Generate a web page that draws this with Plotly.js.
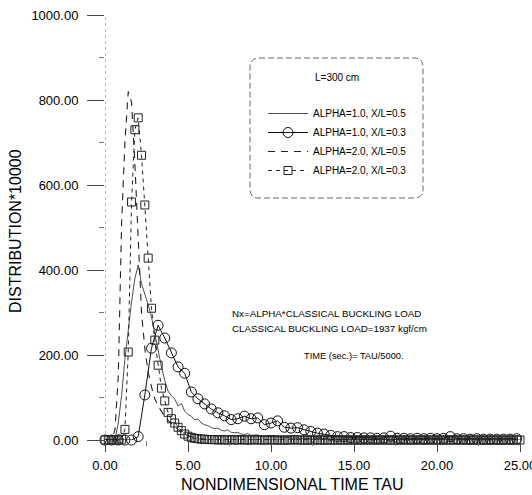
<!DOCTYPE html>
<html>
<head>
<meta charset="utf-8">
<script src="https://cdn.plot.ly/plotly-3.0.1.min.js"></script>
<style>html,body{margin:0;padding:0;background:#fff;}#chart{width:532px;height:495px;}</style>
</head>
<body>
<div id="chart"></div>
<script>
// ---- data ----
// series sampled every 0.2 in TAU, starting at 0
const TAU_FINE_START = 0, TAU_FINE_STEP = 0.2;
// circle series sampled every 0.4 in TAU, starting at 0
const TAU_COARSE_START = 0, TAU_COARSE_STEP = 0.4;

const seriesNames = ["ALPHA=1.0, X/L=0.5", "ALPHA=1.0, X/L=0.3", "ALPHA=2.0, X/L=0.5", "ALPHA=2.0, X/L=0.3"];

const alpha1_xl05 = [
  0,0,0,0,40,105,190,260,325,380,
  412,368,345,318,290,250,205,172,140,115,
  104,96,80,86,68,60,56,47,50,40,
  36,34,29,27,28,23,21,24,18,17,
  18,14,13,15,11,11,12,9,8,10,
  7,7,8,6,5,6,5,4,5,3,
  3,4,3,2,3,2,2,2,1,2,
  1,1,2,1,1,1,0,1,1,0,
  1,0,1,0,0,1,0,0,1,0,
  0,0,1,0,0,0,0,1,0,0,
  0,0,0,0,0,0,0,0,0,0,
  0,0,0,0,0,0,0,0,0,0,
  0,0,0,0,0,0
];

const alpha1_xl03 = [
  0,0,0,0,0,8,106,216,270,240,
  205,172,157,113,97,85,73,64,57,48,
  50,56,50,52,36,40,45,30,28,29,
  24,20,16,14,11,8,8,6,6,5,
  5,4,5,9,4,4,3,4,3,4,
  3,4,8,3,3,2,3,2,2,2,
  2,2,3
];

const alpha2_xl05 = [
  0,0,0,24,150,510,700,820,795,650,
  460,300,215,160,125,97,80,66,55,46,
  38,31,25,19,14,10,7,5,3,2,
  1,0,0,0,0,0,0,0,0,0,
  0,0,0,0,0,0,0,0,0,0,
  0,0,0,0,0,0,0,0,0,0,
  0,0,0,0,0,0,0,0,0,0,
  0,0,0,0,0,0,0,0,0,0,
  0,0,0,0,0,0,0,0,0,0,
  0,0,0,0,0,0,0,0,0,0,
  0,0,0,0,0,0,0,0,0,0,
  0,0,0,0,0,0,0,0,0,0,
  0,0,0,0,0,0
];

const alpha2_xl03 = [
  0,0,0,0,0,2,25,207,560,730,
  758,670,553,428,310,235,176,122,92,65,
  50,40,30,22,14,9,6,4,3,2,
  2,1,1,1,0,1,0,0,1,0,
  0,1,0,0,0,1,0,0,0,0,
  1,0,0,0,0,0,0,1,0,0,
  0,0,0,0,0,0,0,0,0,0,
  0,0,0,0,0,0,0,0,0,0,
  0,0,0,0,0,0,0,0,0,0,
  0,0,0,0,0,0,0,0,0,0,
  0,0,0,0,0,0,0,0,0,0,
  0,0,0,0,0,0,0,0,0,0,
  0,0,0,0,0,0
];

const xTickVals = [0, 5, 10, 15, 20, 25];
const xTickText = ["0.00", "5.00", "10.00", "15.00", "20.00", "25.00"];
const yTickVals = [0, 200, 400, 600, 800, 1000];
const yTickText = ["0.00", "200.00", "400.00", "600.00", "800.00", "1000.00"];

// ---- layout helpers ----
const W = 532, H = 495;
const M = {l: 105, r: 12, t: 15, b: 55};
const PW = W - M.l - M.r, PH = H - M.t - M.b;
const px = x => (x - M.l) / PW;            // pixel -> paper x
const py = y => (H - M.b - y) / PH;        // pixel -> paper y

function roundRectPath(x0, y0, x1, y1, r) {
  const rx = r / PW, ry = r / PH;
  const L = px(x0), R = px(x1), T = py(y0), B = py(y1);
  return `M ${L+rx},${T} L ${R-rx},${T} Q ${R},${T} ${R},${T-ry} L ${R},${B+ry} Q ${R},${B} ${R-rx},${B} ` +
         `L ${L+rx},${B} Q ${L},${B} ${L},${B+ry} L ${L},${T-ry} Q ${L},${T} ${L+rx},${T} Z`;
}

const FONT = '"Liberation Sans", Arial, Helvetica, sans-serif';

const traces = [
  {name: seriesNames[0], y: alpha1_xl05, x0: TAU_FINE_START, dx: TAU_FINE_STEP, type: 'scatter', mode: 'lines',
   line: {color: '#3a3a3a', width: 0.9}, cliponaxis: false},
  {name: seriesNames[1], y: alpha1_xl03, x0: TAU_COARSE_START, dx: TAU_COARSE_STEP, type: 'scatter', mode: 'lines+markers',
   line: {color: '#111', width: 1},
   marker: {symbol: 'circle-open', size: 10, color: '#111', line: {width: 1, color: '#111'}}, cliponaxis: false},
  {name: seriesNames[2], y: alpha2_xl05, x0: TAU_FINE_START, dx: TAU_FINE_STEP, type: 'scatter', mode: 'lines',
   line: {color: '#222', width: 1.1, dash: '7px,6px'}, cliponaxis: false},
  {name: seriesNames[3], y: alpha2_xl03, x0: TAU_FINE_START, dx: TAU_FINE_STEP, type: 'scatter', mode: 'lines+markers',
   line: {color: '#222', width: 1, dash: '4px,4px'},
   marker: {symbol: 'square-open', size: 8, color: '#222', line: {width: 1, color: '#222'}}, cliponaxis: false}
];

const layout = {
  width: W, height: H,
  margin: {l: M.l, r: M.r, t: M.t, b: M.b, pad: 0},
  paper_bgcolor: '#fff', plot_bgcolor: '#fff',
  font: {family: FONT, color: '#000', size: 13},
  showlegend: true,
  legend: {x: px(263), y: py(99), xanchor: 'left', yanchor: 'top', itemwidth: 40,
           bgcolor: 'rgba(0,0,0,0)', borderwidth: 0, font: {size: 10, family: FONT, color: '#000'}},
  xaxis: {range: [0, 25], tickmode: 'array', tickvals: xTickVals, ticktext: xTickText,
          ticks: 'outside', ticklen: 11, tickwidth: 1, tickcolor: '#444', ticklabeloverflow: 'allow',
          showgrid: false, zeroline: false, showline: false, fixedrange: true,
          tickfont: {size: 13, family: FONT, color: '#000'}, ticklabelstandoff: 2,
          minor: {tickvals: [2.5, 7.5, 12.5, 17.5, 22.5], ticks: 'outside', ticklen: 5, tickcolor: '#777'}},
  yaxis: {range: [0, 1000], tickmode: 'array', tickvals: yTickVals, ticktext: yTickText,
          ticks: 'outside', ticklen: 17, tickwidth: 1, tickcolor: '#444',
          showgrid: false, zeroline: false, showline: false, fixedrange: true,
          tickfont: {size: 13, family: FONT, color: '#000'}, ticklabelstandoff: 6,
          minor: {tickvals: [100, 300, 500, 700, 900], ticks: 'outside', ticklen: 5, tickcolor: '#777'}},
  shapes: [
    {type: 'line', xref: 'x', yref: 'y', x0: 0, x1: 0, y0: 0, y1: 1000,
     line: {color: '#777', width: 1, dash: 'dot'}, layer: 'below'},
    {type: 'path', xref: 'paper', yref: 'paper', path: roundRectPath(250, 58, 423, 198, 9),
     line: {color: '#666', width: 1, dash: '6px,3px'}, fillcolor: 'rgba(0,0,0,0)'}
  ],
  annotations: [
    {text: 'NONDIMENSIONAL TIME TAU', xref: 'paper', yref: 'paper', x: px(292), y: py(484),
     xanchor: 'center', yanchor: 'middle', showarrow: false, font: {size: 16, family: FONT, color: '#000'}},
    {text: 'DISTRIBUTION*10000', xref: 'paper', yref: 'paper', x: px(15), y: py(231), textangle: -90,
     xanchor: 'center', yanchor: 'middle', showarrow: false, font: {size: 16, family: FONT, color: '#000'}},
    {text: 'L=300 cm', xref: 'paper', yref: 'paper', x: px(313), y: py(78),
     xanchor: 'left', yanchor: 'middle', showarrow: false, font: {size: 10, family: FONT, color: '#000'}},
    {text: 'Nx=ALPHA*CLASSICAL BUCKLING LOAD', xref: 'paper', yref: 'paper', x: px(230), y: py(313),
     xanchor: 'left', yanchor: 'middle', showarrow: false, font: {size: 9.8, family: FONT, color: '#000'}},
    {text: 'CLASSICAL BUCKLING LOAD=1937 kgf/cm', xref: 'paper', yref: 'paper', x: px(230), y: py(328),
     xanchor: 'left', yanchor: 'middle', showarrow: false, font: {size: 9.8, family: FONT, color: '#000'}},
    {text: 'TIME (sec.)= TAU/5000.', xref: 'paper', yref: 'paper', x: px(302), y: py(356),
     xanchor: 'left', yanchor: 'middle', showarrow: false, font: {size: 9.3, family: FONT, color: '#000'}}
  ]
};

Plotly.newPlot('chart', traces, layout, {displayModeBar: false, staticPlot: true});
</script>
</body>
</html>
